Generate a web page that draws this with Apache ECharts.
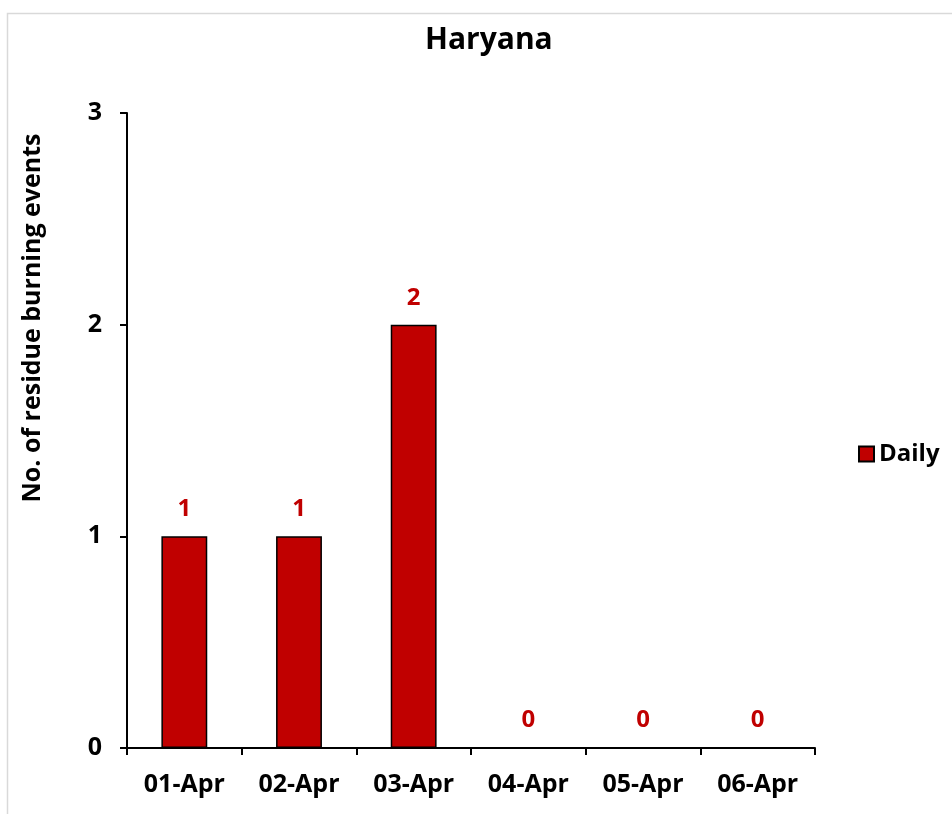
<!DOCTYPE html>
<html>
<head>
<meta charset="utf-8">
<script src="https://cdn.jsdelivr.net/npm/echarts@6/dist/echarts.min.js"></script>
<style>
  html, body { margin: 0; padding: 0; background: #fff; }
  #chart { width: 952px; height: 814px; }
</style>
</head>
<body>
<div id="chart"></div>
<script>
var categories = ['01-Apr', '02-Apr', '03-Apr', '04-Apr', '05-Apr', '06-Apr'];
var dailyValues = [1, 1, 2, 0, 0, 0];
var yTicks = [0, 1, 2, 3];

var fontName = 'Open Sans';
var chart = echarts.init(document.getElementById('chart'));

var option = {
  backgroundColor: '#fff',
  animation: false,
  title: {
    text: 'Haryana',
    left: 420,
    top: 20,
    textStyle: { fontFamily: fontName, fontSize: 30, fontWeight: 'bold', color: '#000' }
  },
  legend: {
    data: ['Daily'],
    icon: 'rect',
    orient: 'vertical',
    left: 853,
    top: 437,
    itemWidth: 15,
    itemHeight: 15,
    itemGap: 6,
    textStyle: { fontFamily: fontName, fontSize: 24, fontWeight: 'bold', color: '#000' }
  },
  grid: { left: 127, right: 137, top: 113, bottom: 66 },
  xAxis: {
    type: 'category',
    data: categories,
    axisLine: { lineStyle: { color: '#000', width: 2 } },
    axisTick: { show: true, length: 7, alignWithLabel: false, lineStyle: { color: '#000', width: 2 } },
    axisLabel: { margin: 24, fontFamily: fontName, fontSize: 25, fontWeight: 'bold', color: '#000' }
  },
  yAxis: {
    type: 'value',
    min: yTicks[0],
    max: yTicks[yTicks.length - 1],
    interval: 1,
    splitLine: { show: false },
    axisLine: { show: true, lineStyle: { color: '#000', width: 2 } },
    axisTick: { show: true, length: 7, lineStyle: { color: '#000', width: 2 } },
    axisLabel: { margin: 25, fontFamily: fontName, fontSize: 25, fontWeight: 'bold', color: '#000' }
  },
  graphic: [
    {
      type: 'rect',
      left: 5, top: 11,
      shape: { width: 960, height: 820 },
      style: { fill: 'none', stroke: '#d9d9d9', lineWidth: 1.5 },
      silent: true
    },
    {
      type: 'text',
      x: 33, y: 318,
      rotation: Math.PI / 2,
      style: {
        text: 'No. of residue burning events',
        fontFamily: fontName, fontSize: 25, fontWeight: 'bold', fill: '#000',
        align: 'center', verticalAlign: 'middle'
      }
    }
  ],
  series: [
    {
      name: 'Daily',
      type: 'bar',
      data: dailyValues,
      barWidth: '40%',
      itemStyle: { color: '#C00000', borderColor: '#000', borderWidth: 1.5 },
      label: {
        show: true,
        position: 'top',
        distance: 15,
        fontFamily: fontName, fontSize: 24, fontWeight: 'bold', color: '#C00000'
      }
    }
  ]
};

chart.setOption(option);
window.addEventListener('resize', function () {
  chart.resize();
});
</script>
</body>
</html>
